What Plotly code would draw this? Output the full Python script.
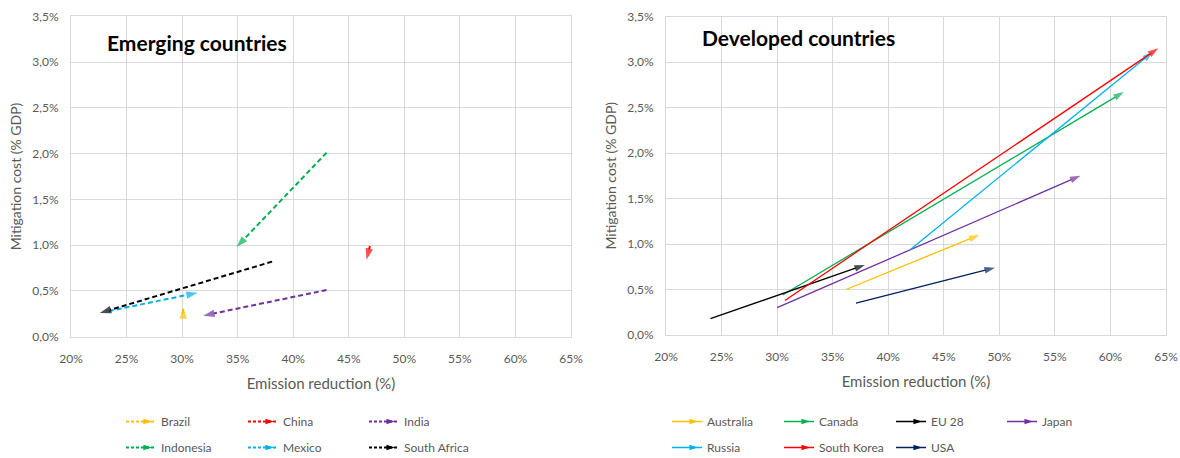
import plotly.graph_objects as go

# ---------------- data ----------------
emerging_countries = ["Brazil", "China", "India", "Indonesia", "Mexico", "South Africa"]
em_x_start = [30.1, 46.9, 43.0, 43.0, 23.4, 38.1]
em_y_start = [0.25, 0.99, 0.51, 2.01, 0.28, 0.82]
em_x_end = [30.1, 46.6, 31.9, 34.9, 31.4, 22.6]
em_y_end = [0.32, 0.84, 0.23, 0.98, 0.48, 0.26]

developed_countries = ["Australia", "Canada", "EU 28", "Japan", "Russia", "South Korea", "USA"]
dev_x_start = [36.2, 30.5, 24.0, 30.0, 42.0, 30.7, 37.1]
dev_y_start = [0.50, 0.44, 0.18, 0.30, 0.94, 0.38, 0.35]
dev_x_end = [48.2, 61.2, 37.9, 57.3, 63.8, 64.3, 49.6]
dev_y_end = [1.10, 2.67, 0.77, 1.75, 3.11, 3.15, 0.74]

em_colors = ["#FFC000", "#FF0000", "#7030A0", "#00B050", "#00B0F0", "#000000"]
dev_colors = ["#FFC000", "#00B050", "#000000", "#7030A0", "#00B0F0", "#FF0000", "#002060"]

x_ticks = [20, 25, 30, 35, 40, 45, 50, 55, 60, 65]
x_tick_labels = ["20%", "25%", "30%", "35%", "40%", "45%", "50%", "55%", "60%", "65%"]
y_ticks = [0.0, 0.5, 1.0, 1.5, 2.0, 2.5, 3.0, 3.5]
y_tick_labels = ["0,0%", "0,5%", "1,0%", "1,5%", "2,0%", "2,5%", "3,0%", "3,5%"]

panel_titles = ["Emerging countries", "Developed countries"]
x_title = "Emission reduction (%)"
y_title = "Mitigation cost (% GDP)"

FONT = "Lato"
GRID = "#D9D9D9"
TXT = "#595959"
W = 1180
FH = 480  # figure taller than the 458 px view so the bottom legend row never pushes margins


def yf(px):
    return 1 - px / FH


fig = go.Figure()

# emerging: dashed arrows
for i, name in enumerate(emerging_countries):
    fig.add_trace(go.Scatter(
        x=[em_x_start[i], em_x_end[i]], y=[em_y_start[i], em_y_end[i]],
        mode="lines+markers", xaxis="x", yaxis="y", showlegend=False,
        line=dict(color=em_colors[i], width=2, dash="5px,3px"),
        marker=dict(symbol=["circle", "arrow"], size=[0, 12], angleref="previous",
                    color=em_colors[i], line=dict(width=0)),
        hoverinfo="skip"))

# developed: solid arrows
for i, name in enumerate(developed_countries):
    fig.add_trace(go.Scatter(
        x=[dev_x_start[i], dev_x_end[i]], y=[dev_y_start[i], dev_y_end[i]],
        mode="lines+markers", xaxis="x2", yaxis="y2", showlegend=False,
        line=dict(color=dev_colors[i], width=1.3),
        marker=dict(symbol=["circle", "arrow"], size=[0, 11], angleref="previous",
                    color=dev_colors[i], line=dict(width=0)),
        hoverinfo="skip"))

# legend positions (text left edge in px) and rows
em_leg_x = [161, 283, 404, 161, 283, 404]
em_leg_row = [0, 0, 0, 1, 1, 1]
dev_leg_x = [707, 819, 931, 1042, 707, 819, 931]
dev_leg_row = [0, 0, 0, 0, 1, 1, 1]
row_y = [421.5, 447.5]

legend_layout = {}
legend_common = dict(orientation="h", xanchor="left", yanchor="middle",
                     font=dict(family=FONT, size=12, color=TXT), bgcolor="rgba(0,0,0,0)",
                     itemwidth=30)
k = 0
for i, name in enumerate(emerging_countries):
    k += 1
    lname = "legend" if k == 1 else f"legend{k}"
    legend_layout[lname] = dict(legend_common, x=(em_leg_x[i] - 40) / W,
                                y=yf(row_y[em_leg_row[i]]))
    fig.add_trace(go.Scatter(
        x=[None], y=[None], mode="lines+markers", name=name, xaxis="x", yaxis="y",
        legend=lname,
        line=dict(color=em_colors[i], width=2, dash="3px,2px"),
        marker=dict(symbol="arrow", angle=90, size=9, standoff=11, color=em_colors[i])))
for i, name in enumerate(developed_countries):
    k += 1
    lname = f"legend{k}"
    legend_layout[lname] = dict(legend_common, x=(dev_leg_x[i] - 40) / W,
                                y=yf(row_y[dev_leg_row[i]]))
    fig.add_trace(go.Scatter(
        x=[None], y=[None], mode="lines+markers", name=name, xaxis="x2", yaxis="y2",
        legend=lname,
        line=dict(color=dev_colors[i], width=1.5),
        marker=dict(symbol="arrow", angle=90, size=9, standoff=11, color=dev_colors[i])))

axis_common = dict(showgrid=True, gridcolor=GRID, gridwidth=1, zeroline=False,
                   showline=True, linecolor=GRID, mirror=True, ticks="", automargin=False,
                   tickfont=dict(family=FONT, size=12, color=TXT))

xa = dict(axis_common, range=[20, 65], tickvals=x_ticks, ticktext=x_tick_labels,
          ticklabelstandoff=11,
          title=dict(text=x_title, font=dict(family=FONT, size=15, color=TXT), standoff=13))
ya = dict(axis_common, range=[0, 3.5], tickvals=y_ticks, ticktext=y_tick_labels,
          ticklabelstandoff=9,
          title=dict(text=y_title, font=dict(family=FONT, size=14, color=TXT), standoff=7))

fig.update_layout(
    width=W, height=FH,
    margin=dict(l=0, r=0, t=0, b=0),
    paper_bgcolor="white", plot_bgcolor="white",
    font=dict(family=FONT, color=TXT),
    xaxis=dict(xa, domain=[71 / W, 571 / W], anchor="y"),
    yaxis=dict(ya, domain=[yf(336.7), yf(16.3)], anchor="x"),
    xaxis2=dict(xa, domain=[666 / W, 1166 / W], anchor="y2"),
    yaxis2=dict(ya, domain=[yf(335), yf(16.5)], anchor="x2"),
    annotations=[
        dict(text="<b>" + panel_titles[0] + "</b>", xref="paper", yref="paper",
             x=105 / W, y=yf(42), xanchor="left", yanchor="middle", showarrow=False,
             font=dict(family=FONT, size=21, color="#000000")),
        dict(text="<b>" + panel_titles[1] + "</b>", xref="paper", yref="paper",
             x=700 / W, y=yf(37), xanchor="left", yanchor="middle", showarrow=False,
             font=dict(family=FONT, size=21, color="#000000")),
    ],
    **legend_layout,
)

fig.write_html("out.html", config={"displayModeBar": False},
               post_script="document.body.style.margin='0px';document.body.style.overflow='hidden';")
